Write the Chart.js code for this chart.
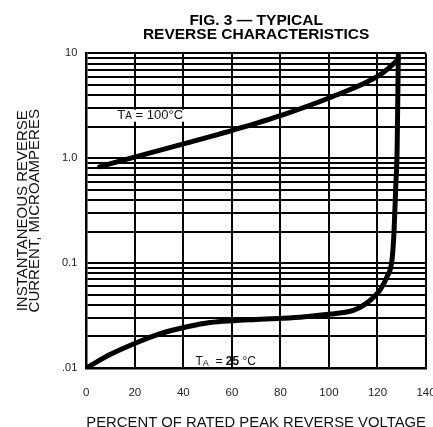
<!DOCTYPE html>
<html>
<head>
<meta charset="utf-8">
<script src="https://cdn.jsdelivr.net/npm/chart.js@4/dist/chart.umd.min.js"></script>
<style>
  html, body { margin: 0; padding: 0; background: #fff; }
  #wrap { width: 433px; height: 427px; }
</style>
</head>
<body>
<div id="wrap"><canvas id="chart"></canvas></div>
<script>
// percent of rated peak reverse voltage
var hotX = [5.5, 18, 42, 60.5, 81, 100.5, 121, 128.5];
// microamperes at TA = 100°C
var hotY = [0.83, 1.0, 1.41, 1.86, 2.6, 3.8, 6.24, 8.7];

var coldX = [0, 10, 21.4, 30.5, 42, 51, 60.5, 70, 81, 90, 101, 106, 110, 113, 115.7, 118.5, 121.1, 123.9, 126, 126.8, 127.6, 128.1, 128.6];
// microamperes at TA = 25°C
var coldY = [0.01, 0.0135, 0.0177, 0.0213, 0.0249, 0.0272, 0.0283, 0.029, 0.0298, 0.0308, 0.0327, 0.0338, 0.0355, 0.0382, 0.0418, 0.0475, 0.0556, 0.074, 0.108, 0.195, 0.585, 1.21, 10];

var xTicks = [0, 20, 40, 60, 80, 100, 120, 140];
var yDecades = [0.01, 0.1, 1, 10];
var yDecadeLabels = [".01", "0.1", "1.0", "10"];

//log grid: 1..9 in every decade
var yGrid = [];
for (let i = 0; i < yDecades.length - 1; i++) {
  for (let m = 1; m < 10; m++) yGrid.push(yDecades[i] * m);
}
yGrid.push(yDecades[yDecades.length - 1]);

function toPoints(xs, ys) {
  return xs.map((x, i) => ({x: x, y: ys[i]}));
}

const FONT = "'Liberation Sans', Arial, Helvetica, sans-serif";

//text labels inside the plot
function drawParts(ctx, x, y, parts, whiteBox) {
  let w = 0;
  parts.forEach(p => { ctx.font = p[1]; w += ctx.measureText(p[0]).width; });
  if (whiteBox) {
    ctx.fillStyle = "#fff";
    ctx.fillRect(x - 1, y - 6, w + 2, 12);
  }
  let cx = x;
  ctx.fillStyle = "#111";
  ctx.textBaseline = "middle";
  ctx.textAlign = "left";
  parts.forEach(p => {
    ctx.font = p[1];
    ctx.fillText(p[0], cx, y + p[2]);
    cx += ctx.measureText(p[0]).width;
  });
}

const labelPlugin = {
  id: "tempLabels",
  afterDatasetsDraw(chart) {
    const ctx = chart.ctx;
    const xs = chart.scales.x, ys = chart.scales.y;
    ctx.save();
    drawParts(ctx, xs.getPixelForValue(12.8), ys.getPixelForValue(2.55), [
      ["T", "13px " + FONT, 0],
      ["A", "10px " + FONT, 1],
      [" = ", "13px " + FONT, 0],
      ["100°C", "13px " + FONT, 0]
    ], true);
    drawParts(ctx, xs.getPixelForValue(45), ys.getPixelForValue(0.0114), [
      ["T", "12px " + FONT, 0],
      ["A", "9px " + FONT, 1],
      ["  = ", "12px " + FONT, 0],
      ["25", "bold 12px " + FONT, 0],
      [" °C", "12px " + FONT, 0]
    ], false);
    ctx.restore();
  }
};

new Chart("chart", {
  type: "line",
  data: {
    datasets: [{
      label: "TA = 100°C",
      data: toPoints(hotX, hotY),
      borderColor: "#000",
      borderWidth: 5,
      pointRadius: 0,
      cubicInterpolationMode: "monotone",
      borderCapStyle: "round"
    }, {
      label: "TA = 25°C",
      data: toPoints(coldX, coldY),
      borderColor: "#000",
      borderWidth: 5,
      pointRadius: 0,
      cubicInterpolationMode: "monotone",
      borderCapStyle: "round"
    }]
  },
  options: {
    responsive: true,
    maintainAspectRatio: false,
    animation: false,
    layout: {
      padding: {left: 17, right: 7, top: 0, bottom: 0}
    },
    plugins: {
      legend: { display: false },
      tooltip: { enabled: false },
      title: {
        display: true,
        fullSize: false,
        text: ["FIG. 3 — TYPICAL", "REVERSE CHARACTERISTICS"],
        color: "#000",
        font: { family: FONT, size: 15.5, weight: "bold", lineHeight: 0.95 },
        padding: { top: 13, bottom: 11 }
      }
    },
    scales: {
      x: {
        type: "linear",
        min: 0,
        max: 140,
        afterBuildTicks: (s) => { s.ticks = xTicks.map(v => ({value: v})); },
        afterFit: (s) => { s.paddingRight = 0; s.paddingLeft = 0; s.height = 59; },
        grid: { color: "#000", lineWidth: 2, drawTicks: false },
        border: { color: "#000", width: 2.5 },
        ticks: {
          color: "#222",
          padding: 18,
          maxRotation: 0,
          font: { family: FONT, size: 11.5 }
        },
        title: {
          display: true,
          text: "PERCENT OF RATED PEAK REVERSE VOLTAGE",
          color: "#111",
          font: { family: FONT, size: 15 },
          padding: { top: 0, bottom: -5 }
        }
      },
      y: {
        type: "logarithmic",
        min: 0.01,
        max: 10,
        afterBuildTicks: (s) => { s.ticks = yGrid.map(v => ({value: v})); },
        grid: { color: "#000", lineWidth: 2, drawTicks: false },
        border: { color: "#000", width: 2.5 },
        ticks: {
          autoSkip: false,
          color: "#222",
          padding: 9,
          font: { family: FONT, size: 11 },
          callback: (v) => {
            let i = yDecades.indexOf(v);
            return i >= 0 ? yDecadeLabels[i] : "";
          }
        },
        title: {
          display: true,
          text: ["INSTANTANEOUS REVERSE", "CURRENT, MICROAMPERES"],
          color: "#111",
          font: { family: FONT, size: 15, lineHeight: 0.8 },
          padding: { top: 0, bottom: 12 }
        }
      }
    }
  },
  plugins: [labelPlugin]
});
</script>
</body>
</html>
